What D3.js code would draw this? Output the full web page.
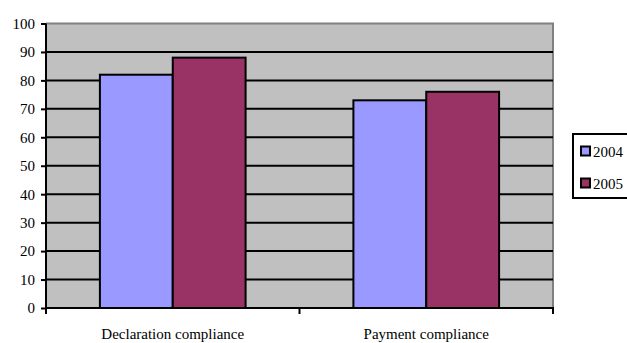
<!DOCTYPE html>
<html>
<head>
<meta charset="utf-8">
<script src="https://cdn.jsdelivr.net/npm/d3@7"></script>
<style>
  html, body { margin: 0; padding: 0; background: #fff; }
  svg { display: block; }
  svg text { font-family: "Liberation Serif", "Times New Roman", Times, serif !important; fill: #000; }
</style>
</head>
<body>
<svg id="chart" width="627" height="343"></svg>
<script>
// Compliance rates by category and year
const categories = ["Declaration compliance", "Payment compliance"];
const years = ["2004", "2005"];
const values2004 = [82, 73];
const values2005 = [88, 76];
const yTicks = [0, 10, 20, 30, 40, 50, 60, 70, 80, 90, 100];
const colors = ["#9999ff", "#993366"];

const seriesValues = [values2004, values2005];
const data = categories.map((c, i) => ({
  category: c,
  values: years.map((y, j) => ({ year: y, value: seriesValues[j][i] }))
}));

const serif = "'Liberation Serif', 'Times New Roman', Times, serif";
const svg = d3.select("#chart");
const plot = { left: 46, right: 553, top: 23.5, bottom: 308 };

const x = d3.scaleBand().domain(categories).range([plot.left, plot.right]).paddingInner(0).paddingOuter(0);
const xInner = d3.scaleBand().domain(years).range([0, x.bandwidth()]).paddingInner(0).paddingOuter(0.74);
const y = d3.scaleLinear().domain([0, 100]).range([plot.bottom, plot.top]);

// plot background
svg.append("rect")
  .attr("x", plot.left).attr("y", plot.top)
  .attr("width", plot.right - plot.left).attr("height", plot.bottom - plot.top)
  .attr("fill", "#c0c0c0");

// gray frame on top and right
svg.append("path")
  .attr("d", `M${plot.left},${plot.top}H${plot.right}V${plot.bottom}`)
  .attr("fill", "none").attr("stroke", "#808080").attr("stroke-width", 2);

// horizontal gridlines
svg.append("g").selectAll("line")
  .data(yTicks.filter(t => t > 0 && t < 100))
  .join("line")
  .attr("x1", plot.left).attr("x2", plot.right)
  .attr("y1", d => y(d)).attr("y2", d => y(d))
  .attr("stroke", "#000").attr("stroke-width", 2);

// bars
const groups = svg.append("g").selectAll("g")
  .data(data).join("g")
  .attr("transform", d => `translate(${x(d.category)},0)`);
groups.selectAll("rect")
  .data(d => d.values).join("rect")
  .attr("x", d => xInner(d.year))
  .attr("y", d => y(d.value))
  .attr("width", xInner.bandwidth())
  .attr("height", d => y(0) - y(d.value))
  .attr("fill", (d, i) => colors[i])
  .attr("stroke", "#000").attr("stroke-width", 2);

// y axis
const yAxis = d3.axisLeft(y).tickValues(yTicks).tickSize(5).tickPadding(6);
const gy = svg.append("g").attr("transform", `translate(${plot.left},0)`).call(yAxis)
  .attr("font-family", serif).attr("font-size", 15);
gy.select(".domain").attr("stroke", "#000").attr("stroke-width", 2).attr("d", `M0,${plot.top}V${plot.bottom}`);
gy.selectAll(".tick line").attr("stroke", "#000").attr("stroke-width", 2);
gy.selectAll(".tick text").attr("fill", "#000");

// x axis with ticks at category boundaries
const gx = svg.append("g").attr("transform", `translate(0,${plot.bottom})`)
  .attr("font-family", serif).attr("font-size", 15);
gx.append("line")
  .attr("x1", plot.left - 1).attr("x2", plot.right + 1)
  .attr("stroke", "#000").attr("stroke-width", 2);
const boundaries = [plot.left, ...categories.slice(1).map(c => x(c)), plot.right];
gx.selectAll(".bt").data(boundaries).join("line")
  .attr("class", "bt")
  .attr("x1", d => d).attr("x2", d => d)
  .attr("y1", 0).attr("y2", 6)
  .attr("stroke", "#000").attr("stroke-width", 2);
gx.selectAll(".cl").data(categories).join("text")
  .attr("class", "cl")
  .attr("x", d => x(d) + x.bandwidth() / 2)
  .attr("y", 31)
  .attr("text-anchor", "middle")
  .text(d => d);

// legend
const legend = svg.append("g").attr("transform", "translate(573,134)")
  .attr("font-family", serif).attr("font-size", 15);
legend.append("rect")
  .attr("x", 0).attr("y", 0).attr("width", 60).attr("height", 64)
  .attr("fill", "#fff").attr("stroke", "#000").attr("stroke-width", 2);
const items = legend.selectAll(".item").data(years).join("g")
  .attr("class", "item")
  .attr("transform", (d, i) => `translate(8,${17 + i * 32})`);
items.append("rect")
  .attr("x", 0).attr("y", -4.5).attr("width", 9).attr("height", 9)
  .attr("fill", (d, i) => colors[i]).attr("stroke", "#000").attr("stroke-width", 2);
items.append("text")
  .attr("x", 12).attr("y", 5.5)
  .text(d => d);
</script>
</body>
</html>
